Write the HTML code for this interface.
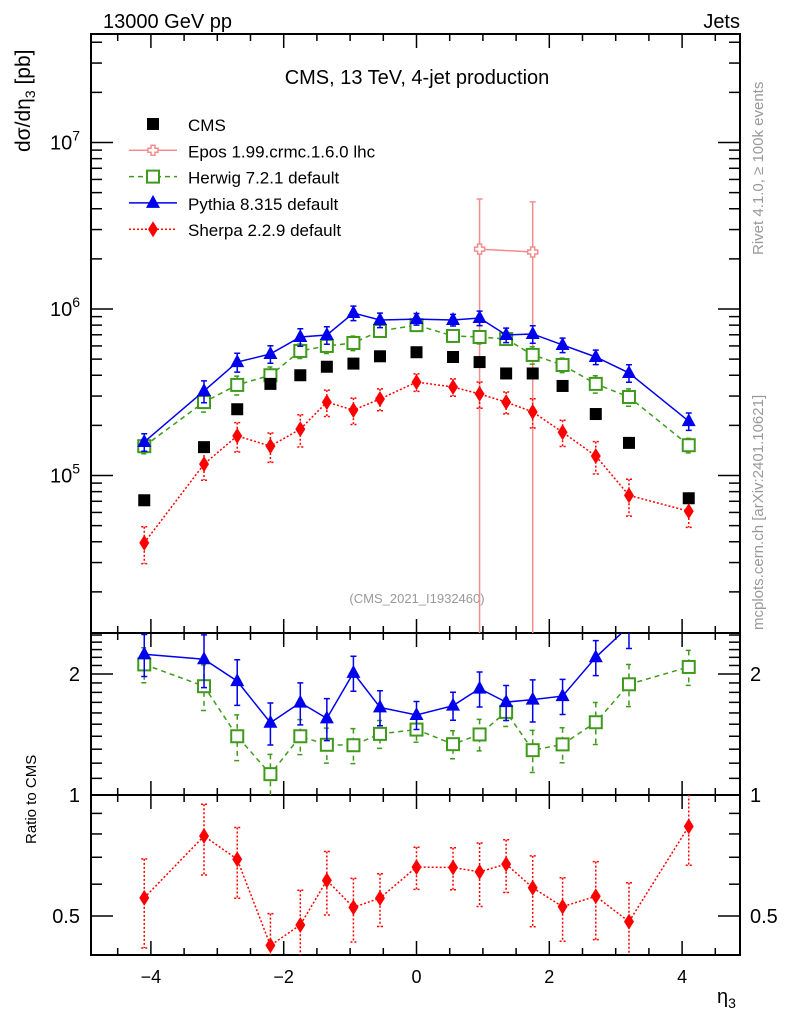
<!DOCTYPE html>
<html><head><meta charset="utf-8"><style>
html,body{margin:0;padding:0;background:#fff;overflow:hidden;width:786px;height:1024px;}
svg{display:block;font-family:"Liberation Sans",sans-serif;}
</style></head><body>
<svg id="chart" width="786" height="1024" viewBox="0 0 786 1024" xmlns="http://www.w3.org/2000/svg">
<defs>
<clipPath id="cMain"><rect x="91" y="34" width="649" height="599"/></clipPath>
<clipPath id="cR1"><rect x="91" y="633" width="649" height="162"/></clipPath>
<clipPath id="cR2"><rect x="91" y="795" width="649" height="160"/></clipPath>
</defs>
<text x="103" y="28" font-size="20">13000 GeV pp</text>
<text x="740" y="28" font-size="20" text-anchor="end">Jets</text>
<text x="417" y="84" font-size="20" text-anchor="middle">CMS, 13 TeV, 4-jet production</text>
<text x="417" y="603" font-size="13" fill="#999" text-anchor="middle">(CMS_2021_I1932460)</text>
<text transform="translate(763,255) rotate(-90)" font-size="15" fill="#999">Rivet 4.1.0, ≥ 100k events</text>
<text transform="translate(763,630) rotate(-90)" font-size="15" fill="#999">mcplots.cern.ch [arXiv:2401.10621]</text>
<text transform="translate(30,152) rotate(-90)" font-size="21">dσ/dη<tspan font-size="14" dy="5">3</tspan><tspan dy="-5"> [pb]</tspan></text>
<text transform="translate(36,844) rotate(-90)" font-size="15">Ratio to CMS</text>
<text x="717" y="1003" font-size="20">η<tspan font-size="14" dy="5">3</tspan></text>
<g id="axes"></g>
<g id="series"></g>
<g id="legend"></g>
</svg>
<script>
const eta = [-4.1,-3.2,-2.7,-2.2,-1.75,-1.35,-0.95,-0.55,0,0.55,0.95,1.35,1.75,2.2,2.7,3.2,4.1];
const cms = [7.1e4,1.48e5,2.5e5,3.55e5,4.0e5,4.5e5,4.7e5,5.2e5,5.5e5,5.15e5,4.8e5,4.1e5,4.1e5,3.45e5,2.34e5,1.57e5,7.3e4];
const pythia = [1.59e5,3.22e5,4.8e5,5.37e5,6.79e5,6.98e5,9.46e5,8.59e5,8.7e5,8.59e5,8.83e5,6.98e5,7.08e5,6.08e5,5.15e5,4.13e5,2.12e5];
const pythiaErr = [0.12,0.15,0.13,0.12,0.12,0.12,0.1,0.1,0.08,0.08,0.1,0.1,0.12,0.1,0.1,0.12,0.12];
const herwig = [1.5e5,2.76e5,3.5e5,4.0e5,5.6e5,6.0e5,6.25e5,7.38e5,8.0e5,6.89e5,6.79e5,6.6e5,5.3e5,4.61e5,3.55e5,2.96e5,1.52e5];
const herwigErr = [0.1,0.13,0.13,0.12,0.1,0.1,0.1,0.08,0.07,0.08,0.09,0.08,0.12,0.1,0.12,0.12,0.1];
const sherpa = [3.94e4,1.17e5,1.73e5,1.5e5,1.9e5,2.76e5,2.47e5,2.88e5,3.64e5,3.4e5,3.09e5,2.76e5,2.41e5,1.82e5,1.31e5,7.6e4,6.1e4];
const sherpaErr = [0.25,0.2,0.2,0.2,0.22,0.18,0.18,0.15,0.12,0.12,0.18,0.15,0.2,0.18,0.22,0.25,0.2];
const eposEta = [0.95,1.75];
const epos = [2.29e6,2.2e6];
const eposErr = [1.0,1.0];
const xTicks = [-4,-2,0,2,4];

const NS="http://www.w3.org/2000/svg";
const L=91,R=740,T=34,B=633,RB=795,RB2=955;
function X(e){return 416.5+66.4*e;}
function Y(v){return 309-166.5*Math.log10(v/1e6);}
function YR(r){return 795-402*Math.log10(r);}
function mk(tag,attrs,parent){const el=document.createElementNS(NS,tag);for(const k in attrs)el.setAttribute(k,attrs[k]);parent.appendChild(el);return el;}
const axes=document.getElementById('axes');
const series=document.getElementById('series');
const legend=document.getElementById('legend');

let f1=mk('rect',{x:L,y:T,width:R-L,height:B-T,fill:'none',stroke:'#000','stroke-width':2},axes);


let f2=mk('rect',{x:L,y:B,width:R-L,height:RB2-B,fill:'none',stroke:'#000','stroke-width':2},axes);


let f3=mk('line',{x1:L,x2:R,y1:RB,y2:RB,stroke:'#000','stroke-width':2},axes);



for(let e=-4.5;e<=4.51;e+=0.5){
  const x=X(e);const major=Math.abs(e%2)<0.01;const len=major?14:7;
  [[T,1],[B,-1],[B,1],[RB,-1],[RB,1],[RB2,-1]].forEach(([y,d])=>{
    const t=mk('line',{x1:x,x2:x,y1:y,y2:y+d*len,stroke:'#000','stroke-width':1.5},axes);
    
    
  });
}
xTicks.forEach(v=>{
  const t=mk('text',{x:X(v),y:983,'font-size':18,'text-anchor':'middle'},axes);
  t.textContent=(v<0?'\u2212'+(-v):String(v));
  
  
});
for(let d=4;d<=7;d++){
  for(let m=1;m<10;m++){
    const v=m*Math.pow(10,d);const y=Y(v);
    if(y<T||y>B)continue;
    const len=m===1?22:11;
    [[L,1],[R,-1]].forEach(([x,s])=>{
      const t=mk('line',{x1:x,x2:x+s*len,y1:y,y2:y,stroke:'#000','stroke-width':1.5},axes);
      
      
    });
    if(m===1){
      const t=mk('text',{x:80,y:y+7,'font-size':20,'text-anchor':'end'},axes);
      t.innerHTML='10<tspan font-size="14" dy="-9">'+d+'</tspan>';
      
      
    }
  }
}
const rTicks=[0.4,0.5,0.6,0.7,0.8,0.9,1,1.1,1.2,1.3,1.4,1.5,1.6,1.7,1.8,1.9,2,2.1,2.2,2.3,2.4,2.5];
rTicks.forEach(v=>{
  const y=YR(v);if(y<B||y>RB2)return;
  const major=(v===0.5||v===1||v===2);const len=major?22:11;
  [[L,1],[R,-1]].forEach(([x,s])=>{
    const t=mk('line',{x1:x,x2:x+s*len,y1:y,y2:y,stroke:'#000','stroke-width':1.5},axes);
    
    
  });
  if(major){
    [[80,'end'],[750,'start']].forEach(([x,a])=>{
      const t=mk('text',{x:x,y:y+7,'font-size':20,'text-anchor':a},axes);
      t.textContent=String(v);
      
      
    });
  }
});

function marker(type,x,y,color,g){
  let el;
  if(type==='sq') el=mk('rect',{x:x-6,y:y-6,width:12,height:12,fill:color},g);
  else if(type==='osq') el=mk('rect',{x:x-6,y:y-6,width:12,height:12,fill:'#fff',stroke:color,'stroke-width':2},g);
  else if(type==='tri') el=mk('polygon',{points:`${x},${y-8} ${x-7},${y+5} ${x+7},${y+5}`,fill:color},g);
  else if(type==='dia') el=mk('polygon',{points:`${x},${y-8} ${x-5},${y} ${x},${y+8} ${x+5},${y}`,fill:color},g);
  else if(type==='cross') el=mk('path',{d:`M${x-2},${y-5}h4v3h3v4h-3v3h-4v-3h-3v-4h3z`,fill:'#fff',stroke:color,'stroke-width':1.5},g);
  return el;
}
function drawSeries(name,xs,vals,errs,color,dash,type,yf,clip,width,ymax){
  const g=mk('g',{'clip-path':'url(#'+clip+')'},series);
  
  
  const pts=xs.map((e,i)=>X(e)+','+yf(vals[i])).join(' ');
  if(type!=='sq'){
    const pl=mk('polyline',{points:pts,fill:'none',stroke:color,'stroke-width':width||1.5,'stroke-dasharray':dash},g);
    
    
  }
  xs.forEach((e,i)=>{
    const x=X(e);
    if(errs){
      const lo=vals[i]*(1-errs[i]);const hi=vals[i]*(1+errs[i]);
      const y1=yf(hi);const y2=lo>0?Math.min(yf(lo),ymax):ymax;
      const eb=mk('path',{d:`M${x},${y1}V${y2}M${x-3},${y1}h6M${x-3},${y2}h6`,stroke:color,'stroke-width':1.5,fill:'none','stroke-dasharray':dash},g);
      
      
    }
    const m=marker(type,x,yf(vals[i]),color,g);
    
    
  });
}
const GREEN='#3f9a1c',BLUE='#0000ee',RED='#ff0000',PINK='#f58c8c';
drawSeries('epos',eposEta,epos,eposErr,PINK,'','cross',Y,'cMain',1.5,B+5);
drawSeries('sherpa',eta,sherpa,sherpaErr,RED,'2,2','dia',Y,'cMain',1.5,B+5);
drawSeries('herwig',eta,herwig,herwigErr,GREEN,'5,4','osq',Y,'cMain',1.5,B+5);
drawSeries('pythia',eta,pythia,pythiaErr,BLUE,'','tri',Y,'cMain',1.5,B+5);
drawSeries('cms',eta,cms,null,'#000','','sq',Y,'cMain',1.5,B+5);
const rH=herwig.map((v,i)=>v/cms[i]);
const rP=pythia.map((v,i)=>v/cms[i]);
const rS=sherpa.map((v,i)=>v/cms[i]);
drawSeries('sherpa-ratio',eta,rS,sherpaErr,RED,'2,2','dia',YR,'cR2',1.5,RB2+5);
drawSeries('herwig-ratio',eta,rH,herwigErr,GREEN,'5,4','osq',YR,'cR1',1.5,RB2+5);
drawSeries('pythia-ratio',eta,rP,pythiaErr,BLUE,'','tri',YR,'cR1',1.5,RB2+5);

const leg=[['CMS','#000','','sq',false],['Epos 1.99.crmc.1.6.0 lhc',PINK,'','cross',true],['Herwig 7.2.1 default',GREEN,'5,4','osq',true],['Pythia 8.315 default',BLUE,'','tri',true],['Sherpa 2.2.9 default',RED,'2,2','dia',true]];
leg.forEach((l,i)=>{
  const y=124+i*26.3;
  const g=mk('g',{},legend);
  
  
  if(l[4]) mk('line',{x1:129,x2:177,y1:y,y2:y,stroke:l[1],'stroke-width':1.5,'stroke-dasharray':l[2]},g);
  marker(l[3],153,y,l[1],g);
  const t=mk('text',{x:188,y:y+7,'font-size':17},g);
  t.textContent=l[0];
});
</script>
</body></html>
